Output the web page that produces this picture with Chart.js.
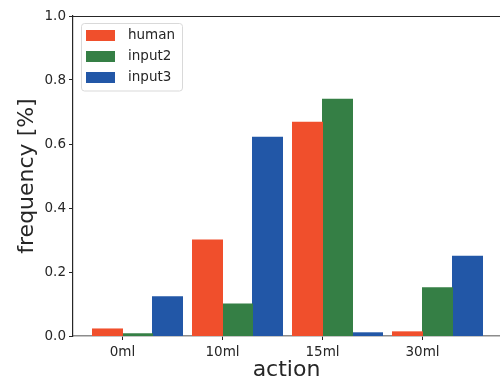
<!DOCTYPE html>
<html>
<head>
<meta charset="utf-8">
<script src="https://cdn.jsdelivr.net/npm/chart.js@4"></script>
<style>
  html, body { margin: 0; padding: 0; background: #fff; }
  #wrap { width: 500px; height: 383px; position: relative; }
</style>
</head>
<body>
<div id="wrap"><canvas id="myChart"></canvas></div>
<script>
const categories = ['0ml', '10ml', '15ml', '30ml'];
const seriesNames = ['human', 'input2', 'input3'];
const human = [0.022, 0.30, 0.668, 0.013];
const input2 = [0.007, 0.10, 0.740, 0.151];
const input3 = [0.123, 0.621, 0.010, 0.249];
const yTicks = [0.0, 0.2, 0.4, 0.6, 0.8, 1.0];

const seriesColors = ['#f04f2c', '#357f45', '#2257a7'];
// bars sit to the right of each tick like matplotlib align='edge'
const groupShift = 0.15;
const font = 'DejaVu Sans';

function toPoints(values){
  return values.map((v, i) => ({x: i + groupShift, y: v}));
}

const data = {
  datasets: [human, input2, input3].map((vals, k) => ({
    label: seriesNames[k],
    data: toPoints(vals),
    backgroundColor: seriesColors[k],
    borderWidth: 0,
    inflateAmount: 0.5,
    categoryPercentage: 0.9,
    barPercentage: 1.0
  }))
};

// top spine + legend box like matplotlib
const framePlugin = {
  id: 'frame',
  afterDraw(chart){
    const ctx = chart.ctx;
    const a = chart.chartArea;
    ctx.save();
    ctx.strokeStyle = '#262626';
    ctx.lineWidth = 1.2;
    ctx.beginPath();
    ctx.moveTo(a.left, a.top + 0.5);
    ctx.lineTo(a.right, a.top + 0.5);
    ctx.stroke();

    // legend
    const bx = 81, by = 23.5, bw = 101, bh = 67.5;
    ctx.fillStyle = 'rgba(255,255,255,0.8)';
    ctx.strokeStyle = '#d9d9d9';
    ctx.lineWidth = 1;
    ctx.beginPath();
    ctx.roundRect(bx + 0.5, by, bw, bh, 3);
    ctx.fill();
    ctx.stroke();
    ctx.font = '13.5px "' + font + '"';
    ctx.textBaseline = 'middle';
    chart.data.datasets.forEach((ds, i) => {
      const y = 30 + i * 21;
      ctx.fillStyle = ds.backgroundColor;
      ctx.fillRect(86, y, 29, 11);
      ctx.fillStyle = '#262626';
      ctx.fillText(ds.label, 128, y + 5.5);
    });
    ctx.restore();
  }
};

const myChart = new Chart(document.getElementById('myChart'), {
  type: 'bar',
  data: data,
  plugins: [framePlugin],
  options: {
    responsive: true,
    maintainAspectRatio: false,
    animation: false,
    layout: { padding: { top: 16, right: 0, left: 0, bottom: 0 } },
    plugins: {
      legend: { display: false },
      tooltip: { enabled: false }
    },
    scales: {
      x: {
        type: 'linear',
        offset: false,
        min: -0.495,
        max: 3.775,
        afterFit: (s) => { s.height = 47; },
        afterBuildTicks: (s) => { s.ticks = categories.map((c, i) => ({value: i})); },
        ticks: {
          includeBounds: false,
          autoSkip: false,
          maxRotation: 0,
          color: '#262626',
          padding: 4,
          font: { family: font, size: 13.5 },
          callback: (v) => categories[v]
        },
        grid: {
          offset: false,
          drawOnChartArea: false,
          drawTicks: true,
          tickLength: 4,
          color: '#262626'
        },
        border: { color: '#8c8c8c', width: 1.5 },
        title: {
          display: true,
          text: 'action',
          color: '#262626',
          font: { family: font, size: 22 },
          padding: { top: 0, bottom: 0 }
        }
      },
      y: {
        min: 0,
        max: 1,
        afterFit: (s) => { s.width = 73; },
        afterBuildTicks: (s) => { s.ticks = yTicks.map(v => ({value: v})); },
        ticks: {
          color: '#262626',
          padding: 3,
          font: { family: font, size: 13.5 },
          callback: (v) => v.toFixed(1)
        },
        grid: {
          drawOnChartArea: false,
          drawTicks: true,
          tickLength: 4,
          color: '#262626'
        },
        border: { color: '#262626', width: 1.2 },
        title: {
          display: true,
          text: 'frequency [%]',
          color: '#262626',
          font: { family: font, size: 22 },
          padding: { top: 14, bottom: 0 }
        }
      }
    }
  }
});
</script>
</body>
</html>
